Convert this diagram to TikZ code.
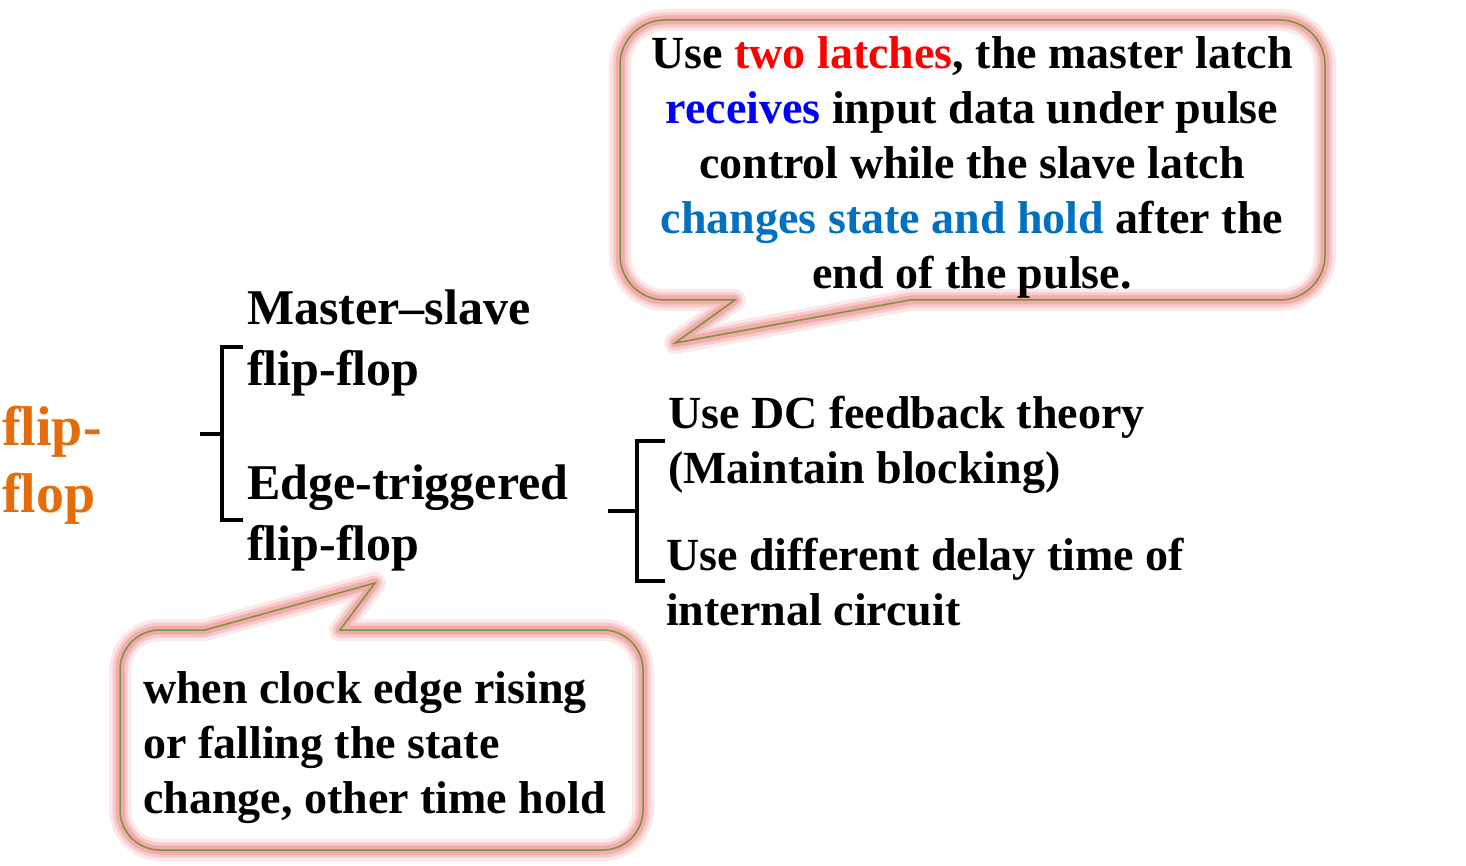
\documentclass[tikz,border=0pt]{standalone}
\usepackage{fontspec}
\setmainfont{Liberation Serif}
\definecolor{ffor}{RGB}{228,108,10}
\definecolor{glow}{RGB}{238,130,130}
\definecolor{bord}{RGB}{119,147,60}
\definecolor{cblue}{RGB}{0,112,192}
\definecolor{pblue}{RGB}{0,0,255}
\definecolor{pred}{RGB}{255,0,0}
\tikzset{
  txtA/.style={inner sep=0pt, align=left, anchor=north west, font=\fontsize{46}{55}\selectfont\bfseries},
  txtB/.style={inner sep=0pt, align=left, anchor=north west, font=\fontsize{50}{61}\selectfont\bfseries},
  txtC/.style={inner sep=0pt, align=left, anchor=north west, text=ffor, font=\fontsize{56}{67}\selectfont\bfseries},
  brk/.style={line width=3.5pt, line cap=butt},
  glowA/.style={draw=glow, line width=22pt, opacity=.18, line join=round},
  glowB/.style={draw=glow, line width=15pt, opacity=.28, line join=round},
  glowC/.style={draw=glow, line width=9pt, opacity=.45, line join=round},
  calloutline/.style={draw=bord, line width=1.5pt, line join=miter}
}
\def\topcallout{(735,300) -- (665,300) arc (90:180:45) -- (620,65) arc (180:270:45)
  -- (1280,20) arc (270:360:45) -- (1325,255) arc (0:90:45) -- (910,300) -- (675,343) -- cycle}
\def\botcallout{(340,630) -- (603,630) arc (270:360:40) -- (643,810) arc (0:90:40)
  -- (160,850) arc (90:180:40) -- (120,670) arc (180:270:40) -- (205,630) -- (375,583) -- cycle}
\begin{document}
\begin{tikzpicture}[x=1pt,y=-1pt]
\useasboundingbox (0,0) rectangle (1466,866);
% callouts
\path[fill=white] \topcallout;
\path[glowA] \topcallout;
\path[glowB] \topcallout;
\path[glowC] \topcallout;
\path[calloutline] \topcallout;
\path[fill=white] \botcallout;
\path[glowA] \botcallout;
\path[glowB] \botcallout;
\path[glowC] \botcallout;
\path[calloutline] \botcallout;
% callout texts
\node[inner sep=0pt, align=center, font=\fontsize{46}{55}\selectfont\bfseries] (topnote) at (972,167)
  {Use \textcolor{pred}{two latches}, the master latch\\
   \textcolor{pblue}{receives} input data under pulse\\
   control while the slave latch\\
   \textcolor{cblue}{changes state and hold} after the\\
   end of the pulse.};
\node[txtA] (botnote) at (143,671) {when clock edge rising\\or falling the state\\change, other time hold};
% tree texts
\node[txtC] (root) at (2,406) {flip-\\flop};
\node[txtB] (ms) at (247,290) {Master–slave\\flip-flop};
\node[txtB] (et) at (247,465) {Edge-triggered\\flip-flop};
\node[txtA] (dc) at (668,396) {Use DC feedback theory\\(Maintain blocking)};
\node[txtA] (dl) at (666,538) {Use different delay time of\\internal circuit};
% brackets
\coordinate (b1s) at (200,434);
\coordinate (b1m) at (222,434);
\coordinate (b1t) at (243,347);
\coordinate (b1b) at (243,520);
\draw[brk] (b1s) -- (b1m);
\draw[brk] (b1t) -| (b1m) |- (b1b);
\coordinate (b2s) at (608,511);
\coordinate (b2m) at (637,511);
\coordinate (b2t) at (665,441);
\coordinate (b2b) at (665,581);
\draw[brk] (b2s) -- (b2m);
\draw[brk] (b2t) -| (b2m) |- (b2b);
\end{tikzpicture}
\end{document}
